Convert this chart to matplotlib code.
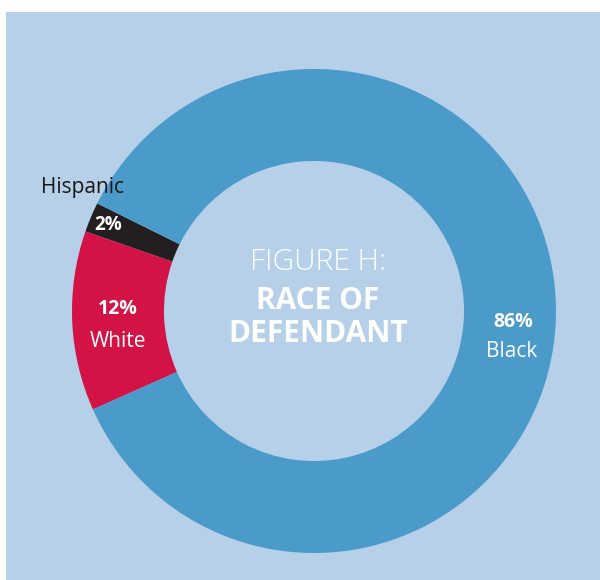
import matplotlib.pyplot as plt
from matplotlib.patches import Rectangle

# Figure H: race of defendant
races = ["Hispanic", "White", "Black"]
shares = [2, 12, 86]
colors = ["#231f20", "#d31245", "#4a9bca"]

bg = "#b5d0e8"
font = "Open Sans"

fig = plt.figure(figsize=(6, 5.8), dpi=100)
fig.patch.set_facecolor("white")
fig.patches.append(Rectangle((6 / 600, 0), 594 / 600, 568.5 / 580,
                             transform=fig.transFigure, facecolor=bg,
                             edgecolor="none", zorder=-5))

# axes box = bounding box of the donut
ax = fig.add_axes([72 / 600, 27 / 580, 484 / 600, 484 / 580])
ax.set_zorder(1)
ax.set_facecolor("none")
ax.pie(shares, colors=colors, startangle=153.6, counterclock=True,
       radius=1, wedgeprops=dict(width=0.38, edgecolor="none"))
ax.set_xlim(-1, 1)
ax.set_ylim(-1, 1)
ax.set_aspect("equal")
ax.axis("off")

# slice labels
ax.text(-0.955, 0.51, "Hispanic", color="#1a1718", fontsize=15,
        family=font, ha="center", va="center")
ax.text(-0.851, 0.355, "2%", color="white", fontsize=13.5, weight="bold",
        family=font, ha="center", va="center")
ax.text(-0.81, 0.008, "12%", color="white", fontsize=14, weight="bold",
        family=font, ha="center", va="center")
ax.text(-0.81, -0.124, "White", color="white", fontsize=15,
        family=font, ha="center", va="center")
ax.text(0.822, -0.045, "86%", color="white", fontsize=14, weight="bold",
        family=font, ha="center", va="center")
ax.text(0.818, -0.169, "Black", color="white", fontsize=15,
        family=font, ha="center", va="center")

# centre title
ax.text(0.017, 0.202, "FIGURE H:", color="white", fontsize=21.5,
        family=font, weight="light", ha="center", va="center")
ax.text(0.017, 0.041, "RACE OF", color="white", fontsize=21.5,
        family=font, weight="bold", ha="center", va="center")
ax.text(0.017, -0.095, "DEFENDANT", color="white", fontsize=21.5,
        family=font, weight="bold", ha="center", va="center")

fig.savefig("out.png", dpi=100)
